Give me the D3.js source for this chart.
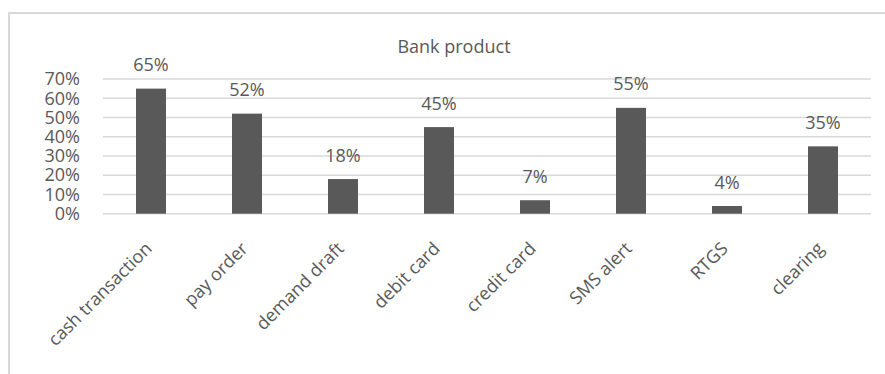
<!DOCTYPE html>
<html>
<head>
<meta charset="utf-8">
<script src="https://cdn.jsdelivr.net/npm/d3@7"></script>
<style>
  html, body { margin: 0; padding: 0; background: #fff; }
  svg { display: block; }
  text { font-family: "Open Sans", sans-serif; fill: #595959; }
</style>
</head>
<body>
<svg id="chart" width="885" height="374"></svg>
<script>
const categories = ["cash transaction", "pay order", "demand draft", "debit card", "credit card", "SMS alert", "RTGS", "clearing"];
const values = [0.65, 0.52, 0.18, 0.45, 0.07, 0.55, 0.04, 0.35];
const yTicks = [0, 0.1, 0.2, 0.3, 0.4, 0.5, 0.6, 0.7];
const title = "Bank product";

const svg = d3.select("#chart");
const W = 885, H = 374;
const plot = { left: 103, right: 871, top: 79, bottom: 213.7 };

// chart border (top and left edges visible)
svg.append("line").attr("x1", 9).attr("x2", W).attr("y1", 13).attr("y2", 13)
  .attr("stroke", "#d9d9d9").attr("stroke-width", 2);
svg.append("line").attr("x1", 9).attr("x2", 9).attr("y1", 12).attr("y2", H)
  .attr("stroke", "#d9d9d9").attr("stroke-width", 2);

const x = d3.scaleBand().domain(categories).range([plot.left, plot.right]).paddingInner(0.6875).paddingOuter(0.34375);
const y = d3.scaleLinear().domain([0, 0.7]).range([plot.bottom, plot.top]);

// gridlines
svg.append("g").selectAll("line").data(yTicks).join("line")
  .attr("x1", plot.left).attr("x2", plot.right)
  .attr("y1", d => y(d)).attr("y2", d => y(d))
  .attr("stroke", "#d9d9d9").attr("stroke-width", 1.5);

// y axis labels
const yAxis = d3.axisLeft(y).tickValues(yTicks).tickFormat(d3.format(".0%")).tickSize(0).tickPadding(0);
const gy = svg.append("g").attr("transform", `translate(80,0)`).call(yAxis);
gy.select(".domain").remove();
gy.selectAll("text").style("font-family", '"Open Sans", sans-serif').style("font-size", "18px").attr("fill", "#595959");

// bars
svg.append("g").selectAll("rect").data(values).join("rect")
  .attr("x", (d, i) => x(categories[i]))
  .attr("width", x.bandwidth())
  .attr("y", d => y(d))
  .attr("height", d => y(0) - y(d))
  .attr("fill", "#595959");

// value labels
svg.append("g").selectAll("text").data(values).join("text")
  .attr("x", (d, i) => x(categories[i]) + x.bandwidth() / 2)
  .attr("y", d => y(d) - 17.5)
  .attr("text-anchor", "middle")
  .style("font-size", "18px")
  .text(d => d3.format(".0%")(d));

// x axis labels rotated
const xAxis = d3.axisBottom(x).tickSize(0).tickPadding(0);
const gx = svg.append("g").attr("transform", `translate(0,${plot.bottom})`).call(xAxis);
gx.select(".domain").remove();
gx.selectAll("text")
  .style("font-family", '"Open Sans", sans-serif').style("font-size", "18px").attr("fill", "#595959")
  .attr("text-anchor", "end")
  .attr("dy", null).attr("y", 0)
  .attr("transform", "translate(2,36) rotate(-45)");

// title
svg.append("text").attr("x", 454).attr("y", 53).attr("text-anchor", "middle")
  .style("font-size", "18px").text(title);
</script>
</body>
</html>
